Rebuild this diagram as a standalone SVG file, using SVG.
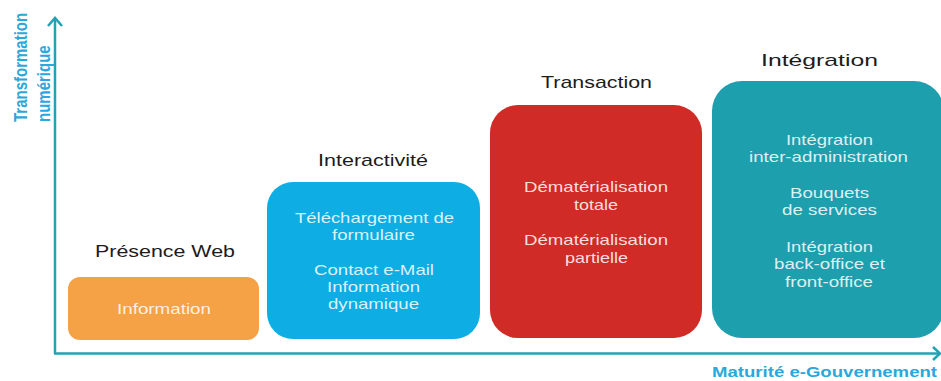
<svg xmlns="http://www.w3.org/2000/svg" width="941" height="381" viewBox="0 0 941 381">
  <style>
    .title { font-family: "Liberation Sans", Arial, sans-serif; font-size: 17px; fill: #1c1c1c; text-anchor: middle; }
    .body { font-family: "Liberation Sans", Arial, sans-serif; font-size: 15px; fill: #ffffff; fill-opacity: 0.86; text-anchor: middle; }
    .axis-label { font-family: "Liberation Sans", Arial, sans-serif; font-size: 15px; font-weight: bold; fill: #2aa8db; }
    .axis { stroke: #22a3b3; stroke-width: 2.5; fill: none; }
  </style>
  <rect width="941" height="381" fill="#ffffff"/>

  <!-- axes -->
  <g id="connectors">
    <line class="axis" x1="55" y1="354" x2="55" y2="18"/>
    <polyline class="axis" points="48,26 55,18 62,26" stroke-linejoin="miter"/>
    <line class="axis" x1="54" y1="353.5" x2="940" y2="353.5"/>
    <polyline class="axis" points="933,347 940,353.5 933,360"/>
  </g>

  <g id="axis-y-label">
    <text class="axis-label" transform="translate(27,122) scale(1.25,1) rotate(-90)">Transformation</text>
    <text class="axis-label" transform="translate(49.5,122) scale(1.25,1) rotate(-90)">numérique</text>
  </g>
  <g id="axis-x-label">
    <text class="axis-label" x="712" y="377" font-size="14" textLength="225" lengthAdjust="spacingAndGlyphs" style="font-size:14px">Maturité e-Gouvernement</text>
  </g>

  <!-- stage 1 -->
  <g id="presence-web">
    <text class="title" x="165" y="257" textLength="140" lengthAdjust="spacingAndGlyphs">Présence Web</text>
    <rect x="68" y="277" width="191" height="63" rx="12" ry="12" fill="#f5a247"/>
    <text class="body" x="164" y="314" textLength="94" lengthAdjust="spacingAndGlyphs">Information</text>
  </g>

  <!-- stage 2 -->
  <g id="interactivite">
    <text class="title" x="373" y="166" textLength="110" lengthAdjust="spacingAndGlyphs">Interactivité</text>
    <rect x="267" y="182" width="213" height="157" rx="26" ry="26" fill="#0eade3"/>
    <text class="body" x="374.5" y="223" textLength="159" lengthAdjust="spacingAndGlyphs">Téléchargement de</text>
    <text class="body" x="373.5" y="240" textLength="83" lengthAdjust="spacingAndGlyphs">formulaire</text>
    <text class="body" x="374" y="275" textLength="120" lengthAdjust="spacingAndGlyphs">Contact e-Mail</text>
    <text class="body" x="373.5" y="292" textLength="93" lengthAdjust="spacingAndGlyphs">Information</text>
    <text class="body" x="373.5" y="309" textLength="91" lengthAdjust="spacingAndGlyphs">dynamique</text>
  </g>

  <!-- stage 3 -->
  <g id="transaction">
    <text class="title" x="596.5" y="88" textLength="111" lengthAdjust="spacingAndGlyphs">Transaction</text>
    <rect x="490" y="105" width="212" height="233" rx="28" ry="28" fill="#d02b26"/>
    <text class="body" x="596" y="192" textLength="144" lengthAdjust="spacingAndGlyphs">Dématérialisation</text>
    <text class="body" x="596" y="210" textLength="44" lengthAdjust="spacingAndGlyphs">totale</text>
    <text class="body" x="596" y="245" textLength="144" lengthAdjust="spacingAndGlyphs">Dématérialisation</text>
    <text class="body" x="596.5" y="263" textLength="63" lengthAdjust="spacingAndGlyphs">partielle</text>
  </g>

  <!-- stage 4 -->
  <g id="integration">
    <text class="title" x="819.5" y="66" textLength="117" lengthAdjust="spacingAndGlyphs">Intégration</text>
    <rect x="712" y="81" width="232" height="257" rx="30" ry="30" fill="#1e9fad"/>
    <text class="body" x="829.5" y="145" textLength="87" lengthAdjust="spacingAndGlyphs">Intégration</text>
    <text class="body" x="828.5" y="162" textLength="159" lengthAdjust="spacingAndGlyphs">inter-administration</text>
    <text class="body" x="829.5" y="198" textLength="79" lengthAdjust="spacingAndGlyphs">Bouquets</text>
    <text class="body" x="829.5" y="215" textLength="95" lengthAdjust="spacingAndGlyphs">de services</text>
    <text class="body" x="829.5" y="252" textLength="87" lengthAdjust="spacingAndGlyphs">Intégration</text>
    <text class="body" x="829.5" y="269" textLength="111" lengthAdjust="spacingAndGlyphs">back-office et</text>
    <text class="body" x="829" y="287" textLength="88" lengthAdjust="spacingAndGlyphs">front-office</text>
  </g>
</svg>
